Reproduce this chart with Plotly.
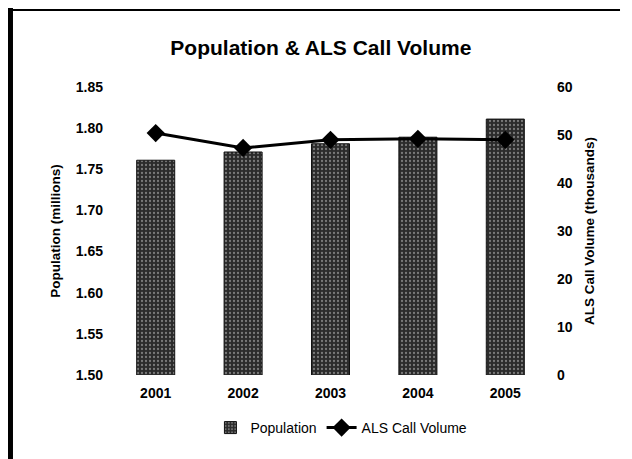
import plotly.graph_objects as go

years = ["2001", "2002", "2003", "2004", "2005"]
population = [1.761, 1.771, 1.781, 1.789, 1.811]
als_calls = [50.4, 47.3, 49.0, 49.2, 49.0]

font = "Liberation Sans, Arial, sans-serif"

fig = go.Figure()

fig.add_trace(go.Bar(
    x=years, y=population,
    name="Population",
    marker=dict(
        color="#2b2b2b",
        line=dict(color="#111111", width=1),
        pattern=dict(shape=".", fgcolor="#c8c8c8", bgcolor="#2b2b2b", size=4, solidity=0.25),
    ),
))

fig.add_trace(go.Scatter(
    x=years, y=als_calls,
    name="ALS Call Volume",
    mode="lines+markers",
    yaxis="y2",
    line=dict(color="black", width=3),
    marker=dict(symbol="diamond", size=14, color="black"),
))

fig.update_layout(
    width=632, height=459,
    title=dict(text="<b>Population & ALS Call Volume</b>", x=0.495, xanchor="center",
               y=0.913, yanchor="middle", font=dict(family=font, size=21, color="black")),
    font=dict(family=font, size=14, color="black"),
    paper_bgcolor="white",
    plot_bgcolor="white",
    margin=dict(l=104, r=91, t=79, b=92),
    bargap=0.565,
    showlegend=True,
    legend=dict(orientation="h", x=0.525, xanchor="center", y=-0.184, yanchor="middle",
                font=dict(family=font, size=14), traceorder="normal"),
    xaxis=dict(showgrid=False, showline=False, ticks="", ticklabelstandoff=8,
               tickfont=dict(family=font, size=14), tickprefix="<b>", ticksuffix="</b>"),
    yaxis=dict(range=[1.5, 1.85], dtick=0.05, tickformat=".2f", showgrid=False,
               zeroline=False, showline=False, ticks="", ticklabelstandoff=8,
               tickprefix="<b>", ticksuffix="</b>",
               tickfont=dict(family=font, size=14),
               title=dict(text="<b>Population (millions)</b>", font=dict(family=font, size=13.5), standoff=12)),
    yaxis2=dict(range=[0, 60], dtick=10, overlaying="y", side="right", showgrid=False,
                zeroline=False, showline=False, ticks="", ticklabelstandoff=7,
                tickprefix="<b>", ticksuffix="</b>",
                tickfont=dict(family=font, size=14),
                title=dict(text="<b>ALS Call Volume (thousands)</b>", font=dict(family=font, size=13.5), standoff=12)),
)

# frame lines of the scanned page
fig.add_shape(type="line", xref="paper", yref="paper", x0=-0.2323, x1=-0.2323, y0=-0.32, y1=1.28,
              line=dict(color="black", width=5))
fig.add_shape(type="line", xref="paper", yref="paper", x0=-0.238, x1=1.1625, y0=1.2674, y1=1.2674,
              line=dict(color="black", width=2))

fig.write_html("out.html")
